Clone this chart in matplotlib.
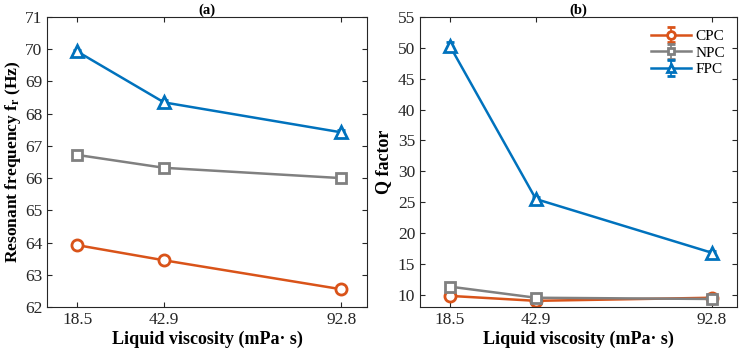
import matplotlib
matplotlib.use("Agg")
import matplotlib.pyplot as plt

plt.rcParams["font.family"] = ["Liberation Serif", "DejaVu Serif"]
plt.rcParams["mathtext.fontset"] = "custom"
plt.rcParams["mathtext.rm"] = "Liberation Serif"
plt.rcParams["mathtext.bf"] = "Liberation Serif:bold"

viscosity = [18.5, 42.9, 92.8]
series = ["CPC", "NPC", "FPC"]
colors = {"CPC": "#D95319", "NPC": "#808080", "FPC": "#0072BD"}
markers = {"CPC": "o", "NPC": "s", "FPC": "^"}
msizes = {"CPC": 8, "NPC": 6.5, "FPC": 8.5}

freq = {
    "CPC": [63.92, 63.45, 62.55],
    "NPC": [66.72, 66.32, 66.00],
    "FPC": [69.93, 68.35, 67.42],
}
freq_err = {"CPC": [0.05, 0.05, 0.05], "NPC": [0.04, 0.04, 0.04], "FPC": [0.06, 0.06, 0.06]}

qfactor = {
    "CPC": [9.8, 9.0, 9.5],
    "NPC": [11.3, 9.5, 9.3],
    "FPC": [50.3, 25.5, 16.8],
}
q_err = {"CPC": [0.3, 0.3, 0.3], "NPC": [0.3, 0.3, 0.3], "FPC": [0.6, 0.4, 0.3]}

fig = plt.figure(figsize=(7.47, 3.53), dpi=100)
ax1 = fig.add_axes([47 / 747, 46 / 353, 320 / 747, 290 / 353])
ax2 = fig.add_axes([420 / 747, 46 / 353, 317 / 747, 290 / 353])


def draw(ax, data, err):
    for name in series:
        ax.errorbar(viscosity, data[name], yerr=err[name], color=colors[name],
                    marker=markers[name], markersize=msizes[name], markerfacecolor="white",
                    markeredgewidth=2.0, linewidth=1.8, capsize=3, elinewidth=1.2,
                    label=name)
    ax.set_xlim(10, 100)
    ax.set_xticks(viscosity)
    ax.set_xticklabels([f"{v}" for v in viscosity])
    ax.tick_params(direction="in", top=True, right=True, labelsize=12.5, length=3.5,
                   colors="#262626")
    for sp in ax.spines.values():
        sp.set_color("#262626")
        sp.set_linewidth(0.8)
    ax.set_xlabel("Liquid viscosity (mPa· s)", fontsize=13, fontweight="bold", labelpad=2)


draw(ax1, freq, freq_err)
ax1.set_ylim(62, 71)
ax1.set_yticks(range(62, 72))
ax1.set_ylabel(r"Resonant frequency $\mathbf{f_r}$ (Hz)", fontsize=12.5, fontweight="bold",
               labelpad=1)
ax1.set_title("(a)", fontsize=10.5, fontweight="bold", pad=2)

draw(ax2, qfactor, q_err)
ax2.set_ylim(8, 55)
ax2.set_yticks(range(10, 56, 5))
ax2.set_ylabel("Q factor", fontsize=13, fontweight="bold", labelpad=4)
ax2.set_title("(b)", fontsize=10.5, fontweight="bold", pad=2)
ax2.legend(loc="upper right", frameon=False, fontsize=11, handlelength=2.6,
           handletextpad=0.3, labelspacing=0.2, borderaxespad=0.4, markerscale=0.7)

fig.savefig("out.png", dpi=100)
